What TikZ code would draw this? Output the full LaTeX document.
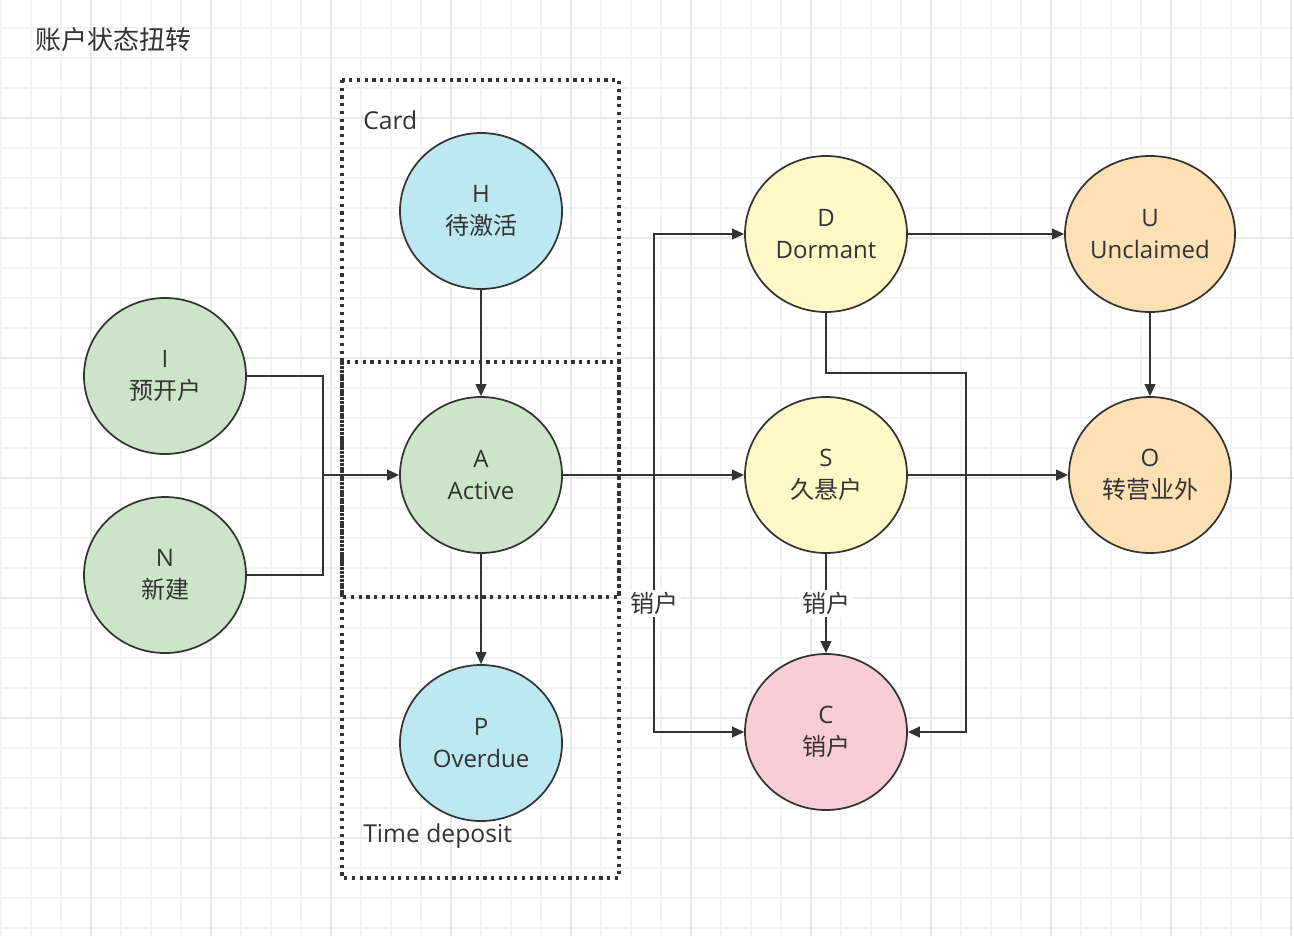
\documentclass[tikz,border=0pt]{standalone}
\usepackage{fontspec}
\setmainfont{Open Sans}
\newfontfamily\cjk{Noto Sans CJK SC}
\usepackage{tikz}
\usetikzlibrary{arrows.meta,shapes.geometric}
\definecolor{ink}{HTML}{333333}
\definecolor{gridminor}{HTML}{F3F3F3}
\definecolor{gridmajor}{HTML}{E8E8E8}
\definecolor{stgreen}{HTML}{CCE5C8}
\definecolor{stblue}{HTML}{BDE8F1}
\definecolor{styellow}{HTML}{FFF9C7}
\definecolor{stpink}{HTML}{F8CDD3}
\definecolor{storange}{HTML}{FDE1B4}

\begin{document}
\begin{tikzpicture}[x=0.75pt,y=-0.75pt,>={Triangle[length=9pt,width=8pt]},
  state/.style={ellipse,draw=ink,line width=1.3pt,minimum width=121.5pt,minimum height=117pt,inner sep=0pt,align=center,text=ink,font=\fontsize{18}{24}\selectfont},
  flow/.style={draw=ink,line width=1.35pt},
  group/.style={draw=ink,line width=2.4pt,dash pattern=on 2.4pt off 3.4pt},
  note/.style={anchor=west,text=ink,font=\fontsize{18.5}{24}\selectfont,inner sep=0pt},
  tag/.style={fill=white,text=ink,font=\cjk\fontsize{18}{24}\selectfont,inner sep=2pt}]
\useasboundingbox[fill=white] (0,0) rectangle (1294,936);
\foreach \gx in {1,31,...,1291} \draw[gridminor,line width=1.5pt] (\gx,0) -- (\gx,936);
\foreach \gy in {28,58,...,928} \draw[gridminor,line width=1.5pt] (0,\gy) -- (1294,\gy);
\foreach \gx in {91,211,...,1291} \draw[gridmajor,line width=1.5pt] (\gx,0) -- (\gx,936);
\foreach \gy in {118,238,...,838} \draw[gridmajor,line width=1.5pt] (0,\gy) -- (1294,\gy);

\node[note,font=\cjk\fontsize{19.5}{24}\selectfont] (title) at (35,40) {账户状态扭转};
\draw[group] (342,80) rectangle (619,597);
\draw[group] (342,362) rectangle (619,878);
\node[note] (card) at (363,120) {Card};
\node[note] (deposit) at (363,836) {Time deposit};

\node[state,fill=stgreen] (I) at (165,376) {I\\{\cjk 预开户}};
\node[state,fill=stgreen] (N) at (165,575) {N\\{\cjk 新建}};
\node[state,fill=stblue] (H) at (481,211) {H\\{\cjk 待激活}};
\node[state,fill=stgreen] (A) at (481,475) {A\\Active};
\node[state,fill=stblue] (P) at (481,743) {P\\Overdue};
\node[state,fill=styellow] (D) at (826,234) {D\\Dormant};
\node[state,fill=styellow] (S) at (826,475) {S\\{\cjk 久悬户}};
\node[state,fill=stpink] (C) at (826,732) {C\\{\cjk 销户}};
\node[state,fill=storange,minimum width=127.5pt] (U) at (1150,234) {U\\Unclaimed};
\node[state,fill=storange] (O) at (1150,475) {O\\{\cjk 转营业外}};

\coordinate (merge) at (323,475);
\coordinate (split) at (654,475);
\coordinate (bend) at (966,373);
\draw[flow] (I.east) -| (merge);
\draw[flow] (N.east) -| (merge);
\draw[flow,->] (merge) -- (A.west);
\draw[flow,->] (H) -- (A);
\draw[flow,->] (A) -- (P);
\draw[flow,->] (A) -- (S);
\draw[flow,->] (split) |- (D.west);
\draw[flow,->] (split) |- (C.west) node[tag,pos=0.25] (cut1) {销户};
\draw[flow,->] (S) -- (C) node[tag,midway] (cut2) {销户};
\draw[flow,->] (D) -- (U);
\draw[flow,->] (D.south) |- (bend) |- (C.east);
\draw[flow,->] (U) -- (O);
\draw[flow,->] (S) -- (O);
\end{tikzpicture}
\end{document}
